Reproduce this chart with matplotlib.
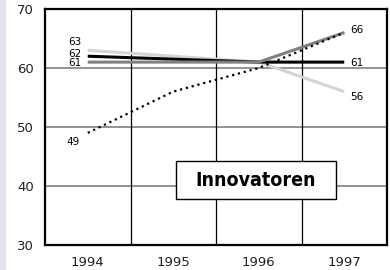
import matplotlib
matplotlib.use("Agg")
import matplotlib.pyplot as plt
from matplotlib.patches import Rectangle

years = ["1994", "1995", "1996", "1997"]
black_vals = [62, 61.5, 61, 61]
gray_vals = [61, 61, 61, 66]
light_vals = [63, 62, 61, 56]
dotted_vals = [49, 56, 60, 66]
title = "Innovatoren"

fig = plt.figure(figsize=(3.9, 2.7), dpi=100)
fig.patches.append(Rectangle((0, 0), 6 / 390, 1, transform=fig.transFigure,
                             facecolor="#e6e1ef", edgecolor="none"))
ax = fig.add_axes([45 / 390, 1 - 245 / 270, 342 / 390, 236 / 270])

x = range(len(years))
ax.plot(x, light_vals, color="#d4d4d4", lw=2.2, solid_capstyle="butt", zorder=3)
ax.plot(x, black_vals, color="black", lw=2.2, solid_capstyle="butt", zorder=4)
ax.plot(x, gray_vals, color="#808080", lw=2.2, solid_capstyle="butt", zorder=5)
ax.plot(x, dotted_vals, color="black", lw=1.6, linestyle=(0, (1, 1.7)), zorder=6)

ax.set_xlim(-0.5, 3.5)
ax.set_ylim(30, 70)
ax.set_xticks(list(x))
ax.set_xticklabels(years)
ax.set_yticks([30, 40, 50, 60, 70])
ax.tick_params(length=0, labelsize=9.5, colors="#222222")
ax.tick_params(axis="y", pad=8)
ax.tick_params(axis="x", pad=8)

for yv in [40, 50, 60]:
    ax.axhline(yv, color="#808080", lw=1.2, zorder=1)
for xv in [0.5, 1.5, 2.5]:
    ax.axvline(xv, color="black", lw=0.9, zorder=1)
for s in ax.spines.values():
    s.set_linewidth(1.6)

fs = 7.5
ax.text(-0.07, 64.4, "63", ha="right", va="center", fontsize=fs)
ax.text(-0.07, 62.3, "62", ha="right", va="center", fontsize=fs)
ax.text(-0.07, 60.8, "61", ha="right", va="center", fontsize=fs)
ax.text(-0.17, dotted_vals[0] - 1.6, "49", ha="center", va="center", fontsize=fs)
ax.text(3.07, gray_vals[3] + 0.4, "66", ha="left", va="center", fontsize=fs)
ax.text(3.07, black_vals[3] - 0.1, "61", ha="left", va="center", fontsize=fs)
ax.text(3.07, light_vals[3] - 0.9, "56", ha="left", va="center", fontsize=fs)

ax.add_patch(Rectangle((1.03, 37.8), 1.87, 6.4, facecolor="white",
                       edgecolor="black", lw=1.0, zorder=7))
ax.text(1.965, 41.0, title, ha="center", va="center", fontsize=14,
        fontweight="bold", fontstretch="condensed", family="DejaVu Sans", zorder=8)

fig.savefig("out.png", dpi=100)
